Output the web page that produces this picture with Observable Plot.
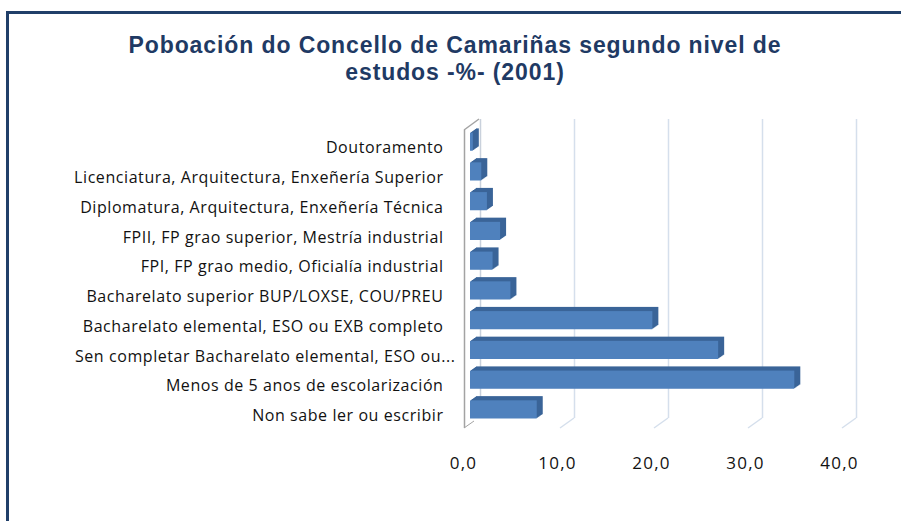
<!DOCTYPE html>
<html>
<head>
<meta charset="utf-8">
<script src="https://cdn.jsdelivr.net/npm/d3@7"></script>
<script src="https://cdn.jsdelivr.net/npm/@observablehq/plot@0.6"></script>
<style>
  html, body { margin: 0; padding: 0; background: #fff; }
  body { width: 901px; height: 521px; position: relative; overflow: hidden; }
  #frame { position: absolute; left: 6px; top: 11px; width: 1000px; height: 600px;
           border: 3px solid #203f69; box-sizing: border-box; }
  #title { position: absolute; left: 0; top: 32px; width: 910px; text-align: center;
           font-family: "Liberation Sans", Arial, sans-serif; font-weight: bold;
           font-size: 23px; line-height: 27px; letter-spacing: 0.9px; color: #1f3a64; }
  #chart { position: absolute; left: 0; top: 95px; }
  #chart svg g[aria-label="x-axis tick label"] { letter-spacing: 1.2px; }
</style>
</head>
<body>
<div id="frame"></div>
<div id="title">Poboación do Concello de Camariñas segundo nivel de<br>estudos -%- (2001)</div>
<div id="chart"></div>
<script>
const categories = [
  "Doutoramento",
  "Licenciatura, Arquitectura, Enxeñería Superior",
  "Diplomatura, Arquitectura, Enxeñería Técnica",
  "FPII, FP grao superior, Mestría industrial",
  "FPI, FP grao medio, Oficialía industrial",
  "Bacharelato superior BUP/LOXSE, COU/PREU",
  "Bacharelato elemental, ESO ou EXB completo",
  "Sen completar Bacharelato elemental, ESO ou...",
  "Menos de 5 anos de escolarización",
  "Non sabe ler ou escribir"
];
const values = [0.3, 1.2, 1.8, 3.2, 2.4, 4.3, 19.4, 26.4, 34.5, 7.1];
const xTicks = [0, 10, 20, 30, 40];

const data = categories.map((c, i) => ({category: c, value: values[i]}));
const truncated = categories.filter(c => c.endsWith("..."));
const regular = categories.filter(c => !c.endsWith("..."));

const W = 901, H = 426;
const mL = 470, mR = 55, mT = 26, mB = 90.9;
const depthSteps = [1, 2, 3, 4, 5, 6];

const marks = [
  Plot.ruleX(xTicks.filter(t => t > 0), {stroke: "#d5dfec", strokeWidth: 1.5, dx: 10, insetTop: -2, insetBottom: 12}),
  Plot.ruleX([0], {stroke: "#c9d1dc", strokeWidth: 1.5, dx: 10, insetTop: -2, insetBottom: 12}),
  Plot.ruleX([0], {stroke: "#a3a3a3", strokeWidth: 1.5, dx: -6, insetTop: 9, insetBottom: 2}),
  ...depthSteps.map(k => Plot.barX(data, {x: "value", y: "category", fill: "#3a6498", dx: k, dy: -k * 0.7})),
  Plot.barX(data, {x: "value", y: "category", fill: "#4f81bd"}),
  Plot.axisY(regular, {tickSize: 0, tickPadding: 27, dy: 6, fontSize: 16, fill: "#111"}),
  Plot.axisY(truncated, {tickSize: 0, tickPadding: 27, dx: 12, dy: 6, fontSize: 16, fill: "#111"}),
  Plot.axisX({ticks: xTicks, tickSize: 0, tickPadding: 26, dx: -7, fontSize: 17, fill: "#111",
              tickFormat: d => d.toFixed(1).replace(".", ",")})
];

const chart = Plot.plot({
  width: W, height: H,
  marginLeft: mL, marginRight: mR, marginTop: mT, marginBottom: mB,
  x: {domain: [0, 40], label: null},
  y: {domain: categories, padding: 0.39, round: false, label: null},
  style: {fontFamily: "'Open Sans', Lato, sans-serif", fontSize: "16px", letterSpacing: "0.57px", color: "#111", background: "transparent"},
  marks
});
document.getElementById("chart").appendChild(chart);

const xs = chart.scale("x");
const svg = d3.select(chart);
const g = svg.append("g");
xTicks.filter(t => t > 0).forEach(t => {
  const x = xs.apply(t);
  g.append("line").attr("x1", x + 10).attr("y1", 323).attr("x2", x - 4).attr("y2", 333)
    .attr("stroke", "#d5dfec").attr("stroke-width", 1.5);
});
const x0 = xs.apply(0);
g.append("line").attr("x1", x0 - 6).attr("y1", 35).attr("x2", x0 + 9).attr("y2", 24)
  .attr("stroke", "#a3a3a3").attr("stroke-width", 1.5);
g.append("line").attr("x1", x0 - 6).attr("y1", 333).attr("x2", x0 + 4).attr("y2", 326)
  .attr("stroke", "#a3a3a3").attr("stroke-width", 1);
</script>
</body>
</html>
